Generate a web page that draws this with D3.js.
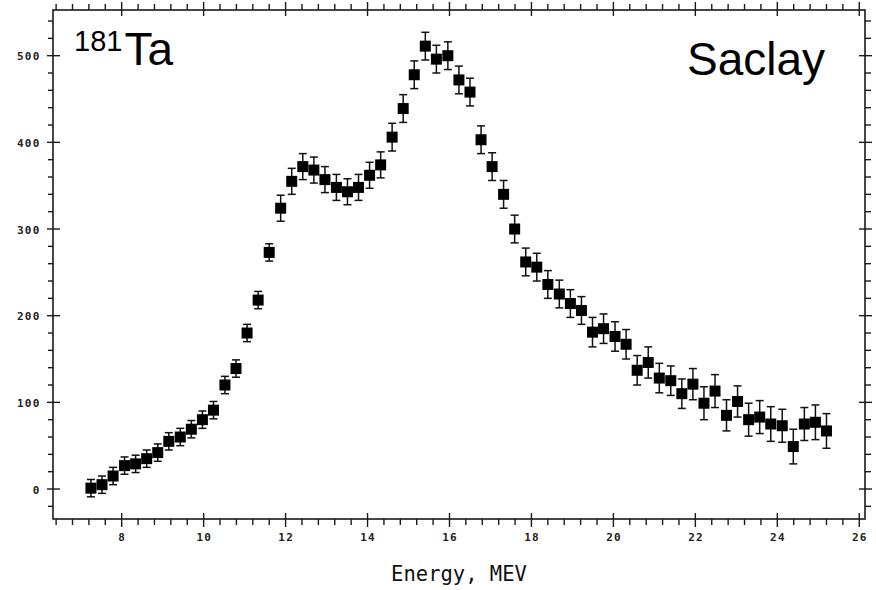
<!DOCTYPE html>
<html>
<head>
<meta charset="utf-8">
<script src="https://cdn.jsdelivr.net/npm/d3@7"></script>
<style>
  html, body { margin: 0; padding: 0; background: #fff; }
  svg { display: block; }
</style>
</head>
<body>
<svg id="chart" width="876" height="590"></svg>
<script>
// ---- data ----
const energies = [7.25, 7.52, 7.79, 8.07, 8.34, 8.61, 8.88, 9.15, 9.43, 9.70,
  9.97, 10.24, 10.52, 10.79, 11.06, 11.33, 11.60, 11.88, 12.15, 12.42,
  12.69, 12.96, 13.24, 13.51, 13.78, 14.05, 14.32, 14.60, 14.87, 15.14,
  15.41, 15.68, 15.96, 16.23, 16.50, 16.77, 17.04, 17.32, 17.59, 17.86,
  18.13, 18.40, 18.68, 18.95, 19.22, 19.49, 19.76, 20.04, 20.31, 20.58,
  20.85, 21.12, 21.40, 21.67, 21.94, 22.21, 22.48, 22.76, 23.03, 23.30,
  23.57, 23.84, 24.12, 24.39, 24.66, 24.93, 25.20];
const crossSection = [1, 5, 15, 27, 29, 35, 42, 55, 60, 69,
  80, 91, 120, 139, 180, 218, 273, 324, 355, 372,
  368, 357, 348, 343, 348, 362, 374, 406, 439, 478,
  511, 496, 500, 472, 458, 403, 372, 340, 300, 262,
  256, 236, 225, 214, 206, 181, 185, 176, 167, 137,
  146, 128, 125, 110, 121, 99, 113, 85, 101, 80,
  83, 75, 73, 49, 75, 77, 67];
const errors = [10, 10, 10, 10, 10, 10, 10, 10, 10, 10,
  10, 10, 10, 10, 10, 10, 10, 15, 15, 15,
  15, 15, 15, 15, 15, 15, 15, 16, 16, 16,
  16, 16, 16, 16, 16, 16, 16, 16, 16, 16,
  16, 16, 16, 16, 16, 17, 17, 17, 17, 17,
  18, 17, 17, 17, 18, 19, 19, 18, 18, 19,
  19, 20, 19, 20, 19, 20, 20];
const xMajorTicks = [8, 10, 12, 14, 16, 18, 20, 22, 24, 26];
const yMajorTicks = [0, 100, 200, 300, 400, 500];
const xLabel = "Energy, MEV";
const isotopeMass = "181";
const isotopeSymbol = "Ta";
const labName = "Saclay";

// ---- layout ----
const pL = 53, pR = 865, pT = 10, pB = 519;
const svg = d3.select("#chart");

const x = d3.scaleLinear().domain([6.324, 26.14]).range([pL, pR]);
const y = d3.scaleLinear().domain([-34.6, 552.7]).range([pB, pT]);

const xMinor = d3.range(16, 66).map(k => k * 0.4).filter(v => v >= 6.33 && v <= 26.1 && Math.abs(v / 2 - Math.round(v / 2)) > 1e-6);
const yMinor = d3.range(-1, 28).map(k => k * 20).filter(v => v % 100 !== 0);

const axisColor = "#1a1a1a";
const g = svg.append("g");

// frame
g.append("rect").attr("x", pL).attr("y", pT)
  .attr("width", pR - pL).attr("height", pB - pT)
  .attr("fill", "none").attr("stroke", axisColor).attr("stroke-width", 1.6);

// ticks: minor outward 6, major 7 out + 6 in
function drawTicks() {
  const t = g.append("g").attr("stroke", axisColor).attr("stroke-width", 1.4);
  xMinor.forEach(v => {
    const px = x(v);
    t.append("line").attr("x1", px).attr("x2", px).attr("y1", pB).attr("y2", pB + 6);
    t.append("line").attr("x1", px).attr("x2", px).attr("y1", pT).attr("y2", pT - 6);
  });
  xMajorTicks.forEach(v => {
    const px = x(v);
    t.append("line").attr("x1", px).attr("x2", px).attr("y1", pB - 6).attr("y2", pB + 8);
    t.append("line").attr("x1", px).attr("x2", px).attr("y1", pT + 6).attr("y2", pT - 8);
  });
  yMinor.forEach(v => {
    const py = y(v);
    t.append("line").attr("y1", py).attr("y2", py).attr("x1", pL).attr("x2", pL - 5);
    t.append("line").attr("y1", py).attr("y2", py).attr("x1", pR).attr("x2", pR + 6);
  });
  yMajorTicks.forEach(v => {
    const py = y(v);
    t.append("line").attr("y1", py).attr("y2", py).attr("x1", pL - 6).attr("x2", pL + 7);
    t.append("line").attr("y1", py).attr("y2", py).attr("x1", pR - 6).attr("x2", pR + 7);
  });
}
drawTicks();

// tick labels
const tickFont = "'DejaVu Sans Mono', 'Liberation Mono', monospace";
g.append("g").selectAll("text").data(xMajorTicks).join("text")
  .attr("x", d => x(d) + 0.6).attr("y", 541)
  .attr("text-anchor", "middle")
  .attr("font-family", tickFont).attr("font-size", 11).attr("font-weight", "bold")
  .attr("letter-spacing", 1.2)
  .attr("fill", "#222")
  .text(d => d);
g.append("g").selectAll("text").data(yMajorTicks).join("text")
  .attr("x", 40.5).attr("y", d => y(d) + 4.5)
  .attr("text-anchor", "end")
  .attr("font-family", tickFont).attr("font-size", 11).attr("font-weight", "bold")
  .attr("letter-spacing", 1.2)
  .attr("fill", "#222")
  .text(d => d);

// axis title
g.append("text").attr("x", (pL + pR) / 2).attr("y", 581)
  .attr("text-anchor", "middle")
  .attr("font-family", tickFont).attr("font-size", 20.5)
  .attr("fill", "#111")
  .text(xLabel);

// data
const data = energies.map((e, i) => ({ e, v: crossSection[i], err: errors[i] }));
const pts = g.append("g");
const cap = 4;
pts.selectAll("g.eb").data(data).join("g").attr("class", "eb")
  .attr("stroke", "#111").attr("stroke-width", 1.5)
  .each(function (d) {
    const s = d3.select(this);
    const px = x(d.e), y1 = y(d.v + d.err), y0 = y(d.v - d.err);
    s.append("line").attr("x1", px).attr("x2", px).attr("y1", y1).attr("y2", y0);
    s.append("line").attr("x1", px - cap).attr("x2", px + cap).attr("y1", y1).attr("y2", y1);
    s.append("line").attr("x1", px - cap).attr("x2", px + cap).attr("y1", y0).attr("y2", y0);
  });
const ms = 11;
pts.selectAll("rect").data(data).join("rect")
  .attr("x", d => x(d.e) - ms / 2).attr("y", d => y(d.v) - ms / 2)
  .attr("width", ms).attr("height", ms)
  .attr("fill", "#000");

// annotations
const ann = g.append("text").attr("x", 74).attr("y", 65)
  .attr("font-family", "'Liberation Sans', Arial, sans-serif").attr("fill", "#000");
ann.append("tspan").attr("font-size", 29).attr("dy", -14).text(isotopeMass);
ann.append("tspan").attr("font-size", 46).attr("dy", 14).attr("dx", 2).text(isotopeSymbol);

g.append("text").attr("x", 687).attr("y", 75)
  .attr("font-family", "'Liberation Sans', Arial, sans-serif").attr("font-size", 46)
  .attr("fill", "#000").text(labName);
</script>
</body>
</html>
